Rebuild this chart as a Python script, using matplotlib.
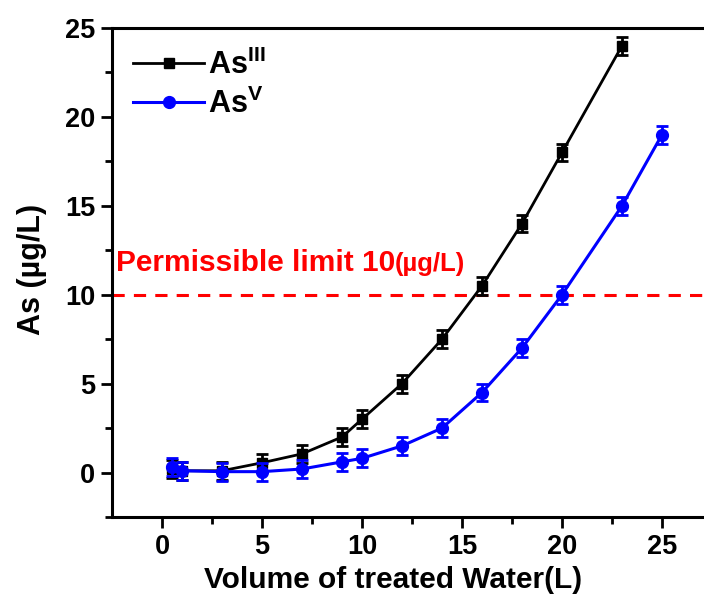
import matplotlib
matplotlib.use("Agg")
import matplotlib.pyplot as plt
from matplotlib.lines import Line2D

plt.rcParams['font.family'] = ['Liberation Sans', 'DejaVu Sans']
plt.rcParams['font.weight'] = 'bold'
plt.rcParams['mathtext.fontset'] = 'custom'
plt.rcParams['mathtext.rm'] = 'Liberation Sans'
plt.rcParams['mathtext.bf'] = 'Liberation Sans:bold'

# data
x_as3 = [0.5, 1, 3, 5, 7, 9, 10, 12, 14, 16, 18, 20, 23]
y_as3 = [0.2, 0.1, 0.1, 0.55, 1.05, 2.0, 3.0, 5.0, 7.5, 10.5, 14.0, 18.0, 24.0]
e_as3 = [0.5] * len(x_as3)
x_as5 = [0.5, 1, 3, 5, 7, 9, 10, 12, 14, 16, 18, 20, 23, 25]
y_as5 = [0.3, 0.1, 0.05, 0.05, 0.2, 0.6, 0.8, 1.5, 2.5, 4.5, 7.0, 10.0, 15.0, 19.0]
e_as5 = [0.5] * len(x_as5)
limit = 10
x_ticks = [0, 5, 10, 15, 20, 25]
y_ticks = [0, 5, 10, 15, 20, 25]

fig = plt.figure(figsize=(7.04, 5.95), dpi=100)
ax = fig.add_axes([112/704, 78/595, 600/704, 489/595])

ax.errorbar(x_as3, y_as3, yerr=e_as3, color='black', marker='s', markersize=7,
            linewidth=2, elinewidth=2, capsize=4, capthick=2, zorder=3)
ax.errorbar(x_as5, y_as5, yerr=e_as5, color='#0000ff', marker='o', markersize=8.5,
            linewidth=2.2, elinewidth=2, capsize=4, capthick=2, zorder=4)

ax.axhline(limit, color='#ff0000', linestyle=(0, (4, 3)), linewidth=2.2, zorder=2)
t1 = ax.text(-2.3, 11.8, 'Permissible limit 10', color='#ff0000', fontsize=21.5,
             fontweight='bold', va='center', ha='left')
ax.annotate('(µg/L)', xy=(1, 0.5), xycoords=t1, xytext=(0, -1),
            textcoords='offset points', color='#ff0000', fontsize=18.5,
            fontweight='bold', va='center', ha='left')

ax.set_xlim(-2.5, 27.5)
ax.set_ylim(-2.5, 25)
ax.set_xticks(x_ticks)
ax.set_yticks(y_ticks)
ax.set_xticks([2.5, 7.5, 12.5, 17.5, 22.5], minor=True)
ax.set_yticks([-2.5, 2.5, 7.5, 12.5, 17.5, 22.5], minor=True)
ax.tick_params(axis='both', which='major', direction='out', length=8, width=2,
               labelsize=19.5, pad=4)
ax.tick_params(axis='both', which='minor', direction='out', length=5, width=2)
for lab in ax.get_xticklabels() + ax.get_yticklabels():
    lab.set_fontweight('bold')
for s in ax.spines.values():
    s.set_linewidth(2.2)

ax.set_xlabel('Volume of treated Water(L)', fontsize=21.5, fontweight='bold')
ax.xaxis.set_label_coords((393 - 112) / 600, -0.1)
ax.set_ylabel('As (µg/L)', fontsize=22, fontweight='bold')
ax.yaxis.set_label_coords(-0.108, (595 - 269 - 78) / 489)

handles = [
    Line2D([], [], color='black', marker='s', markersize=7, linewidth=2),
    Line2D([], [], color='#0000ff', marker='o', markersize=8.5, linewidth=2.2),
]
labels = [r'As$^{\mathrm{III}}$', r'As$^{\mathrm{V}}$']
leg = ax.legend(handles, labels, loc='upper left', frameon=False, fontsize=22,
                handlelength=2.3, handletextpad=0.15, labelspacing=0.25,
                borderaxespad=0.3)
for t in leg.get_texts():
    t.set_fontweight('bold')

fig.savefig('out.png', dpi=100)
